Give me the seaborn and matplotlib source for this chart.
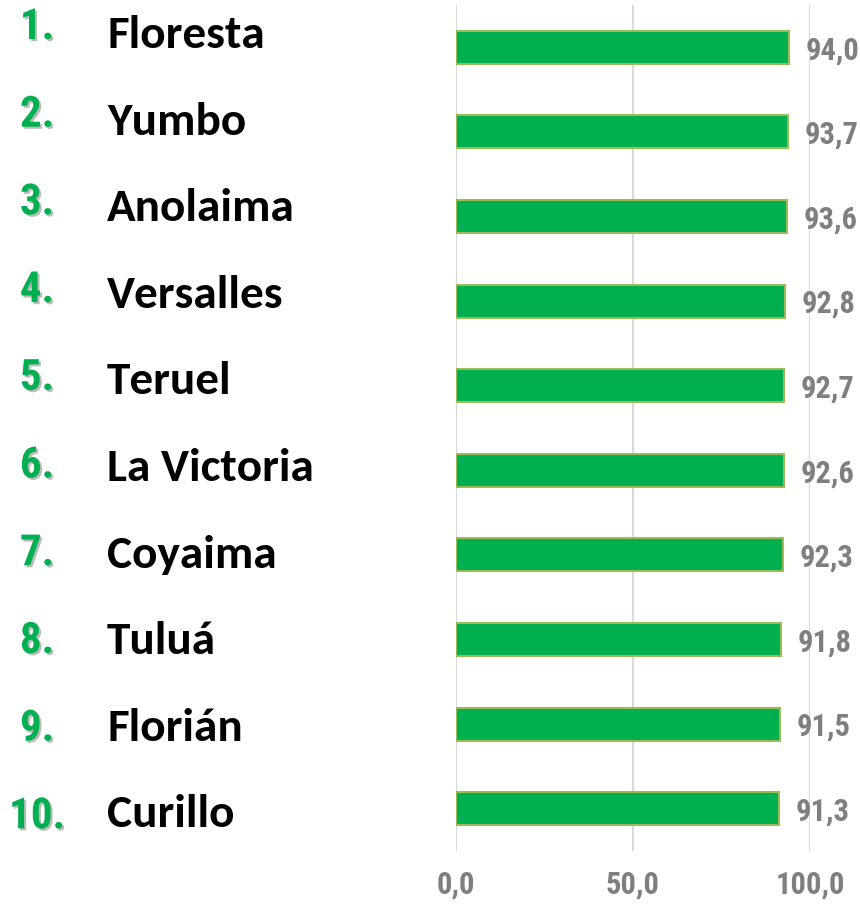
import matplotlib
matplotlib.use('Agg')
from matplotlib import pyplot as plt
import matplotlib.patheffects as pe
import seaborn as sns
import pandas as pd

sns.set_style('white')

ranks = ['1.', '2.', '3.', '4.', '5.', '6.', '7.', '8.', '9.', '10.']
municipios = ['Floresta', 'Yumbo', 'Anolaima', 'Versalles', 'Teruel',
              'La Victoria', 'Coyaima', 'Tuluá', 'Florián', 'Curillo']
valores = [94.0, 93.7, 93.6, 92.8, 92.7, 92.6, 92.3, 91.8, 91.5, 91.3]
ticks = [0, 50, 100]

narrow = ['Roboto Condensed', 'DejaVu Sans']
green = '#00B050'
gray = '#7F7F7F'

df = pd.DataFrame({'municipio': municipios, 'valor': valores})

W, H = 860, 907
fig = plt.figure(figsize=(W / 100, H / 100), dpi=100)
ax = fig.add_axes([456 / W, 1 - 851 / H, (810 - 456) / W, (851 - 5) / H])

sns.barplot(data=df, x='valor', y='municipio', orient='h', color=green,
            edgecolor='#9BBB59', linewidth=1.5, width=0.39, saturation=1, ax=ax)

ax.set_xlim(0, 100)
ax.set_ylim(9.5, -0.5)
ax.set_xticks(ticks)
ax.set_xticklabels([f'{t:.1f}'.replace('.', ',') for t in ticks],
                   family=narrow, fontsize=22, fontweight='bold', color=gray)
ax.tick_params(axis='x', length=0, pad=13)
ax.set_yticks([])
ax.set_xlabel('')
ax.set_ylabel('')
ax.grid(axis='x', color='#D9D9D9', linewidth=1.5)
ax.set_axisbelow(True)
for s in ax.spines.values():
    s.set_visible(False)

etiquetas = ax.bar_label(ax.containers[0],
                         labels=[f'{v:.1f}'.replace('.', ',') for v in valores],
                         padding=12, family=narrow, fontsize=22,
                         fontweight='bold', color=gray)
for t in etiquetas:
    t.set_clip_on(False)
    t.xyann = (12, -2)

for i, (r, m) in enumerate(zip(ranks, municipios)):
    yb = 39 + i * 87.7
    fig.text(37 / W, 1 - yb / H, r, ha='center', va='baseline',
             family=narrow, fontsize=31, fontweight='bold', color=green,
             path_effects=[pe.withSimplePatchShadow(offset=(1.5, -1.5),
                                                    shadow_rgbFace='#555555',
                                                    alpha=0.4)])
    yn = 48 + i * 86.6
    fig.text(107 / W, 1 - yn / H, m, ha='left', va='baseline',
             family=['Carlito', 'DejaVu Sans'], fontsize=34, fontweight='bold',
             color='black')

fig.savefig('out.png', dpi=100)
